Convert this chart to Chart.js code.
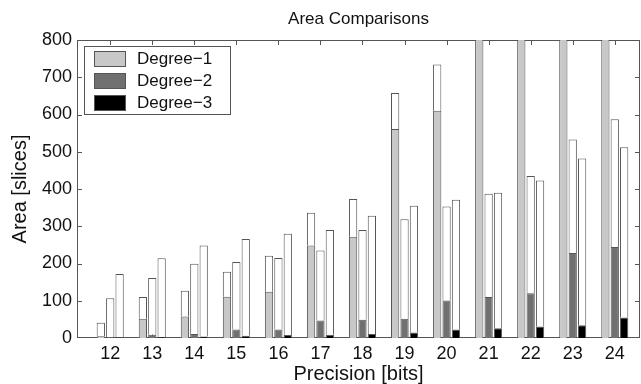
<!DOCTYPE html>
<html>
<head>
<meta charset="utf-8">
<script src="https://cdn.jsdelivr.net/npm/chart.js@4"></script>
<style>
  html, body { margin: 0; padding: 0; background: #fff; }
</style>
</head>
<body>
<canvas id="grafico" width="641" height="384"></canvas>
<script>
// precisao no eixo x
const precisao = [12, 13, 14, 15, 16, 17, 18, 19, 20, 21, 22, 23, 24];
const ticksY = [100, 200, 300, 400, 500, 600, 700];

// parte preenchida e altura total (parte branca em cima) de cada grau
// 21..24 do grau 1 passam do topo do eixo (cortados), valores estimados
const grau1Cheio = [5, 52, 58, 111, 124, 248, 272, 561, 610, 950, 1000, 1050, 1100];
const grau1Total = [41, 110, 127, 178, 221, 336, 373, 658, 734, 1050, 1100, 1150, 1200];
const grau2Cheio = [3, 9, 11, 23, 23, 47, 49, 52, 101, 110, 120, 228, 244];
const grau2Total = [107, 161, 199, 204, 215, 235, 290, 319, 353, 387, 435, 533, 587];
const grau3Cheio = [2, 3, 4, 6, 8, 9, 11, 15, 23, 26, 31, 34, 55];
const grau3Total = [172, 214, 248, 266, 280, 290, 328, 355, 371, 390, 423, 482, 512];

const fonte = '"Liberation Sans", Arial, sans-serif';

function serie(nome, pilha, valores, cor) {
    return {
        label: nome,
        stack: pilha,
        data: precisao.map((p, i) => ({ x: p, y: valores[i] })),
        backgroundColor: cor,
        borderColor: '#555',
        borderWidth: 1,
        categoryPercentage: 0.67,
        barPercentage: 0.88
    };
}

// parte branca = total - preenchido
function resto(total, cheio) {
    return total.map((t, i) => t - cheio[i]);
}

const series = [
    serie('Degree−1', 'g1', grau1Cheio, '#c8c8c8'),
    serie('', 'g1', resto(grau1Total, grau1Cheio), '#ffffff'),
    serie('Degree−2', 'g2', grau2Cheio, '#707070'),
    serie('', 'g2', resto(grau2Total, grau2Cheio), '#ffffff'),
    serie('Degree−3', 'g3', grau3Cheio, '#000000'),
    serie('', 'g3', resto(grau3Total, grau3Cheio), '#ffffff')
];

// caixa dos eixos com os tracinhos pra dentro (estilo matlab) + legenda
const moldura = {
    id: 'moldura',
    beforeDatasetsDraw(chart) {
        const { ctx, chartArea: a, scales: { x, y } } = chart;
        ctx.save();
        ctx.strokeStyle = '#555';
        ctx.lineWidth = 1;
        ctx.strokeRect(a.left + 0.5, a.top + 0.5, a.right - a.left - 1, a.bottom - a.top - 1);
        ctx.beginPath();
        ticksY.forEach(v => {
            const py = Math.round(y.getPixelForValue(v)) + 0.5;
            ctx.moveTo(a.left, py); ctx.lineTo(a.left + 5, py);
            ctx.moveTo(a.right, py); ctx.lineTo(a.right - 5, py);
        });
        precisao.forEach(p => {
            const px = Math.round(x.getPixelForValue(p)) + 0.5;
            ctx.moveTo(px, a.top); ctx.lineTo(px, a.top + 5);
            ctx.moveTo(px, a.bottom); ctx.lineTo(px, a.bottom - 5);
        });
        ctx.stroke();
        ctx.restore();
    },
    afterDraw(chart) {
        const ctx = chart.ctx;
        const itens = chart.data.datasets.filter(d => d.label !== '');
        ctx.save();
        ctx.fillStyle = '#fff';
        ctx.fillRect(84, 46, 147, 69);
        ctx.strokeStyle = '#555';
        ctx.lineWidth = 1;
        ctx.strokeRect(84.5, 46.5, 146, 68);
        ctx.font = '17px ' + fonte;
        ctx.textBaseline = 'middle';
        itens.forEach((d, i) => {
            const yTopo = 51 + i * 22;
            ctx.fillStyle = d.backgroundColor;
            ctx.fillRect(94, yTopo, 32, 16);
            ctx.strokeStyle = '#555';
            ctx.strokeRect(94.5, yTopo + 0.5, 31, 15);
            ctx.fillStyle = '#111';
            ctx.fillText(d.label, 137, yTopo + 8.5);
        });
        ctx.restore();
    }
};

new Chart(document.getElementById('grafico'), {
    type: 'bar',
    data: { datasets: series },
    plugins: [moldura],
    options: {
        responsive: false,
        animation: false,
        layout: { padding: { left: 0, right: 1, top: 0, bottom: 0 } },
        plugins: {
            legend: { display: false },
            tooltip: { enabled: false },
            title: {
                display: true,
                fullSize: false,
                text: 'Area Comparisons',
                color: '#111',
                font: { family: fonte, size: 17, weight: 'normal', lineHeight: 1.2 },
                padding: { top: 9, bottom: 10.6 }
            }
        },
        scales: {
            x: {
                type: 'linear',
                offset: false,
                min: 11.21,
                max: 24.6,
                grid: { display: false, drawTicks: false, offset: false },
                border: { display: false },
                afterBuildTicks: s => { s.ticks = precisao.map(v => ({ value: v })); },
                afterFit: s => { s.height = 46; },
                ticks: { color: '#111', padding: 5, font: { family: fonte, size: 18 } },
                title: {
                    display: true,
                    text: 'Precision [bits]',
                    color: '#111',
                    font: { family: fonte, size: 20, lineHeight: 1 },
                    padding: { top: 0, bottom: 0 }
                }
            },
            y: {
                stacked: true,
                min: 0,
                max: 800,
                grid: { display: false, drawTicks: false },
                border: { display: false },
                afterFit: s => { s.width = 77; },
                ticks: { stepSize: 100, color: '#111', padding: 5, font: { family: fonte, size: 18 } },
                title: {
                    display: true,
                    text: 'Area [slices]',
                    color: '#111',
                    font: { family: fonte, size: 20, lineHeight: 1.2 },
                    padding: { top: 8, bottom: 0 }
                }
            }
        }
    }
});
</script>
</body>
</html>
